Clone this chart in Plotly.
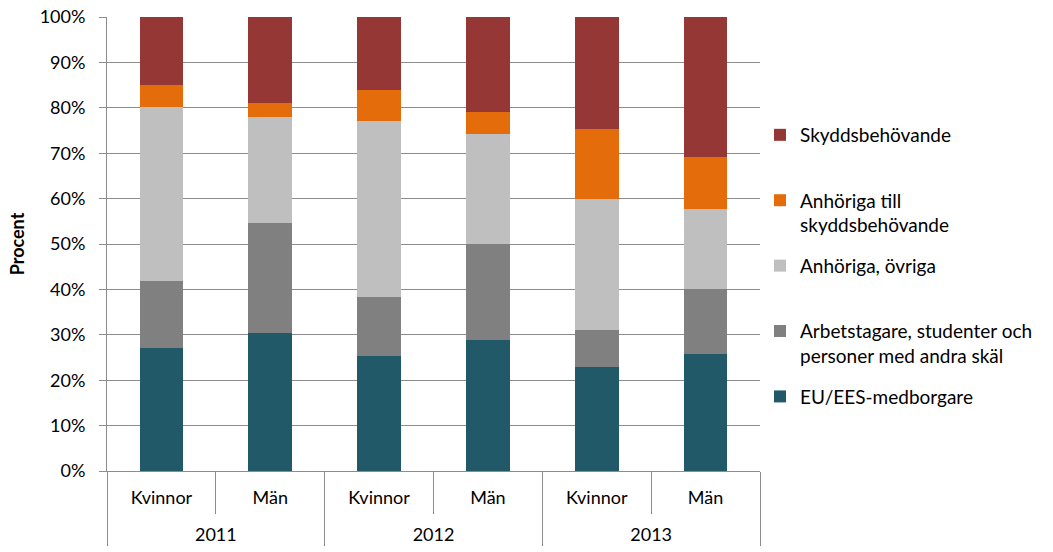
import plotly.graph_objects as go

years = ["2011", "2011", "2012", "2012", "2013", "2013"]
genders = ["Kvinnor", "Män", "Kvinnor", "Män", "Kvinnor", "Män"]

series_names = [
    "EU/EES-medborgare",
    "Arbetstagare, studenter och<br>personer med andra skäl",
    "Anhöriga, övriga",
    "Anhöriga till<br>skyddsbehövande",
    "Skyddsbehövande",
]
eu = [27.1, 30.4, 25.4, 28.8, 22.9, 25.8]
arbetstagare = [14.7, 24.3, 12.9, 21.1, 8.1, 14.3]
anhoriga_ovriga = [38.3, 23.2, 38.9, 24.4, 29.0, 17.6]
anhoriga_skydd = [5.0, 3.1, 6.8, 4.7, 15.4, 11.5]
skydd = [14.9, 19.0, 16.0, 21.0, 24.6, 30.8]
values = [eu, arbetstagare, anhoriga_ovriga, anhoriga_skydd, skydd]
colors = ["#215968", "#808080", "#BFBFBF", "#E46C0A", "#953735"]

FONT = "Lato"
year_labels = ["<br>" + y for y in years]

fig = go.Figure()
n = len(series_names)
for i, (name, vals, col) in enumerate(zip(series_names, values, colors)):
    label = name if "<br>" in name else name + "<br> "
    fig.add_trace(go.Bar(
        x=[year_labels, genders], y=vals, name=label, marker_color=col,
        marker_line_width=0, legendgroup=f"g{i}", legendrank=n - i,
    ))

grid = "#8C8C8C"
fig.update_layout(
    barmode="stack",
    bargap=0.6,
    width=1053, height=552,
    margin=dict(l=107, r=293, t=17, b=81),
    paper_bgcolor="white", plot_bgcolor="white",
    font=dict(family=FONT, size=18, color="#000000"),
    legend=dict(
        traceorder="grouped", tracegroupgap=13, valign="top",
        x=1.0, xanchor="left", y=0.782, yanchor="top",
        font=dict(family=FONT, size=19, color="#000000"),
        itemclick=False, borderwidth=0,
    ),
    xaxis=dict(
        type="multicategory", showline=True, linecolor=grid, linewidth=1,
        ticks="outside", tickson="boundaries", ticklen=42, tickcolor=grid,
        showdividers=True, dividercolor=grid, dividerwidth=1,
        tickfont=dict(family=FONT, size=18, color="#000000"),
        showgrid=False, automargin=False, ticklabelstandoff=10,
    ),
    yaxis=dict(
        range=[0, 100], dtick=10, ticksuffix="%",
        showgrid=True, gridcolor=grid, gridwidth=1,
        showline=True, linecolor=grid, linewidth=1,
        ticks="outside", ticklen=7, tickcolor=grid,
        zeroline=False, automargin=False, ticklabelstandoff=10,
        tickfont=dict(family=FONT, size=18, color="#000000"),
        title=dict(text="<b>Procent</b>", font=dict(family=FONT, size=18, color="#000000"), standoff=10),
    ),
)

fig.write_html("out.html")
